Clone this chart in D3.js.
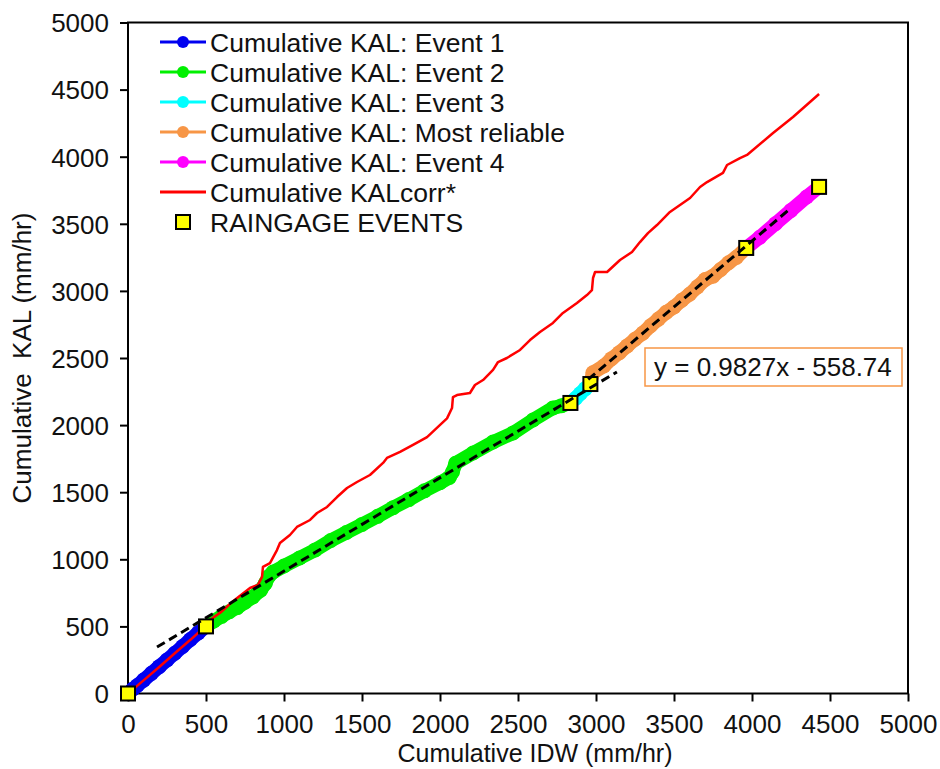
<!DOCTYPE html>
<html>
<head>
<meta charset="utf-8">
<script src="https://cdn.jsdelivr.net/npm/d3@7"></script>
<style>
  html, body { margin: 0; padding: 0; background: #fff; }
  svg text { font-family: "Liberation Sans", Arial, sans-serif; fill: #111; }
</style>
</head>
<body>
<svg id="chart" width="940" height="769"></svg>
<script>
// Cumulative KAL vs cumulative IDW, per event segment (mm/hr)
const event1 = [[0,0],[30,32],[60,60],[100,100],[150,150],[200,200],[250,250],[300,300],[350,350],[400,402],[450,452],[500,500]];
const event2 = [[500,500],[550,540],[600,575],[650,610],[700,640],[750,680],[800,720],[850,770],[880,820],[900,870],[930,905],
  [1000,950],[1100,1010],[1200,1070],[1300,1140],[1400,1200],[1500,1260],[1600,1320],[1700,1385],[1800,1445],[1900,1510],
  [2000,1570],[2060,1610],[2080,1650],[2100,1715],[2212,1792],[2340,1874],[2468,1941],[2596,2038],[2724,2127],[2780,2145],[2836,2165]];
const event3 = [[2836,2165],[2870,2200],[2900,2235],[2930,2270],[2964,2306]];
const mostReliable = [[2964,2306],[2980,2390],[3050,2440],[3100,2495],[3150,2540],[3200,2590],[3250,2640],[3300,2685],[3350,2740],
  [3400,2790],[3450,2840],[3500,2880],[3550,2930],[3600,2975],[3650,3030],[3700,3085],[3750,3110],[3800,3160],[3850,3210],[3900,3250],[3963,3320]];
const event4 = [[3963,3320],[4050,3400],[4150,3500],[4250,3600],[4350,3700],[4430,3775]];
const kalCorr = [[0,0],[100,98],[200,198],[300,300],[400,400],[500,505],[526,548],[600,610],[667,682],[782,786],[833,809],[859,868],
  [865,943],[910,972],[955,1069],[974,1121],[1038,1181],[1083,1241],[1167,1293],[1212,1345],[1276,1390],[1340,1464],[1404,1531],
  [1468,1576],[1551,1628],[1635,1718],[1660,1755],[1744,1800],[1827,1852],[1917,1911],[2045,2050],[2077,2127],[2083,2209],
  [2109,2224],[2192,2239],[2224,2299],[2276,2336],[2340,2411],[2372,2470],[2429,2500],[2513,2560],[2577,2634],[2641,2694],
  [2724,2761],[2788,2836],[2878,2910],[2942,2969],[2974,3006],[2981,3096],[2994,3141],[3071,3141],[3154,3230],[3231,3290],
  [3282,3364],[3333,3431],[3391,3491],[3474,3588],[3603,3692],[3667,3774],[3712,3811],[3814,3879],[3840,3938],[3923,3990],
  [3968,4013],[4135,4177],[4263,4296],[4430,4467]];
const raingageEvents = [[0,0],[500,500],[2836,2165],[2964,2306],[3963,3320],[4430,3775]];

// Linear trend lines: slope, intercept, x-range
const trendLines = [
  { slope: 0.6954, intercept: 216.7, x0: 186, x1: 3134 },
  { slope: 0.9827, intercept: -558.74, x0: 2950, x1: 4245 }
];
const trendLabel = "y = 0.9827x - 558.74";

const xTicks = [0,500,1000,1500,2000,2500,3000,3500,4000,4500,5000];
const yTicks = [0,500,1000,1500,2000,2500,3000,3500,4000,4500,5000];

const series = [
  { name: "Cumulative KAL: Event 1", data: event1, color: "#0000f0" },
  { name: "Cumulative KAL: Event 2", data: event2, color: "#00f000" },
  { name: "Cumulative KAL: Event 3", data: event3, color: "#00ffff" },
  { name: "Cumulative KAL: Most reliable", data: mostReliable, color: "#f79646" },
  { name: "Cumulative KAL: Event 4", data: event4, color: "#ff00ff" }
];
const corrSeries = { name: "Cumulative KALcorr*", data: kalCorr, color: "#ff0000" };
const gaugeName = "RAINGAGE EVENTS";

const svg = d3.select("#chart");
const pLeft = 128, pRight = 908, pTop = 22.5, pBottom = 693.5;
const x = d3.scaleLinear().domain([0, 5000]).range([pLeft, pRight]);
const y = d3.scaleLinear().domain([0, 5000]).range([pBottom, pTop]);
const FS = 26, LEG_FS = 26.5, TITLE_FS = 25;

// axes
const xAxis = svg.append("g").attr("transform", `translate(0,${pBottom})`)
  .call(d3.axisBottom(x).tickValues(xTicks).tickSize(8).tickPadding(13).tickFormat(d3.format("d")));
const yAxis = svg.append("g").attr("transform", `translate(${pLeft},0)`)
  .call(d3.axisLeft(y).tickValues(yTicks).tickSize(8).tickPadding(11).tickFormat(d3.format("d")));
[xAxis, yAxis].forEach(g => {
  g.select(".domain").remove();
  g.selectAll(".tick line").attr("stroke", "#000").attr("stroke-width", 2);
  g.selectAll(".tick text").attr("font-size", FS).attr("font-family", "Liberation Sans, Arial, sans-serif").attr("fill", "#111");
});
yAxis.selectAll(".tick text").attr("dy", "0.36em");

// plot frame
svg.append("rect").attr("x", pLeft).attr("y", pTop).attr("width", pRight - pLeft).attr("height", pBottom - pTop)
  .attr("fill", "none").attr("stroke", "#000").attr("stroke-width", 2);

// axis titles
svg.append("text").attr("x", 535).attr("y", 762).attr("text-anchor", "middle")
  .attr("font-size", TITLE_FS).text("Cumulative IDW (mm/hr)");
svg.append("text").attr("transform", `translate(31,358) rotate(-90)`).attr("text-anchor", "middle")
  .attr("font-size", FS).attr("xml:space", "preserve").text("Cumulative  KAL (mm/hr)");

const line = d3.line().x(d => x(d[0])).y(d => y(d[1]));
const plot = svg.append("g");

// marker bands for each event segment
series.forEach(s => {
  plot.append("path").datum(s.data).attr("d", line).attr("fill", "none")
    .attr("stroke", s.color).attr("stroke-width", 14).attr("stroke-linejoin", "round").attr("stroke-linecap", "round");
  plot.selectAll(null).data(s.data).enter().append("circle")
    .attr("cx", d => x(d[0])).attr("cy", d => y(d[1])).attr("r", 7.5).attr("fill", s.color);
});

// corrected cumulative line
plot.append("path").datum(corrSeries.data).attr("d", line).attr("fill", "none")
  .attr("stroke", corrSeries.color).attr("stroke-width", 2.5).attr("stroke-linejoin", "round");

// rain gauge event markers
plot.selectAll(null).data(raingageEvents).enter().append("rect")
  .attr("x", d => x(d[0]) - 7).attr("y", d => y(d[1]) - 7).attr("width", 14).attr("height", 14)
  .attr("fill", "#ffff00").attr("stroke", "#000").attr("stroke-width", 2);

// trend lines
trendLines.forEach(t => {
  const pts = [[t.x0, t.slope * t.x0 + t.intercept], [t.x1, t.slope * t.x1 + t.intercept]];
  plot.append("path").datum(pts).attr("d", line).attr("fill", "none")
    .attr("stroke", "#000").attr("stroke-width", 3).attr("stroke-dasharray", "9,5");
});

// trend equation label
const lab = svg.append("g").attr("transform", "translate(645,348)");
lab.append("rect").attr("width", 257).attr("height", 38).attr("fill", "#fff")
  .attr("stroke", "#f79646").attr("stroke-width", 1.5);
lab.append("text").attr("x", 9).attr("y", 28).attr("font-size", FS).text(trendLabel);

// legend
const leg = svg.append("g");
const rowY = i => 42 + i * 30;
series.forEach((s, i) => {
  const g = leg.append("g").attr("transform", `translate(0,${rowY(i)})`);
  g.append("line").attr("x1", 160).attr("x2", 206).attr("stroke", s.color).attr("stroke-width", 3);
  g.append("circle").attr("cx", 183).attr("r", 6).attr("fill", s.color);
  g.append("text").attr("x", 210).attr("dy", "0.36em").attr("font-size", LEG_FS).text(s.name);
});
{
  const g = leg.append("g").attr("transform", `translate(0,${rowY(5)})`);
  g.append("line").attr("x1", 160).attr("x2", 206).attr("stroke", corrSeries.color).attr("stroke-width", 3);
  g.append("text").attr("x", 210).attr("dy", "0.36em").attr("font-size", LEG_FS).text(corrSeries.name);
}
{
  const g = leg.append("g").attr("transform", `translate(0,${rowY(6)})`);
  g.append("rect").attr("x", 176).attr("y", -7).attr("width", 14).attr("height", 14)
    .attr("fill", "#ffff00").attr("stroke", "#000").attr("stroke-width", 2);
  g.append("text").attr("x", 210).attr("dy", "0.36em").attr("font-size", LEG_FS).text(gaugeName);
}
</script>
</body>
</html>
